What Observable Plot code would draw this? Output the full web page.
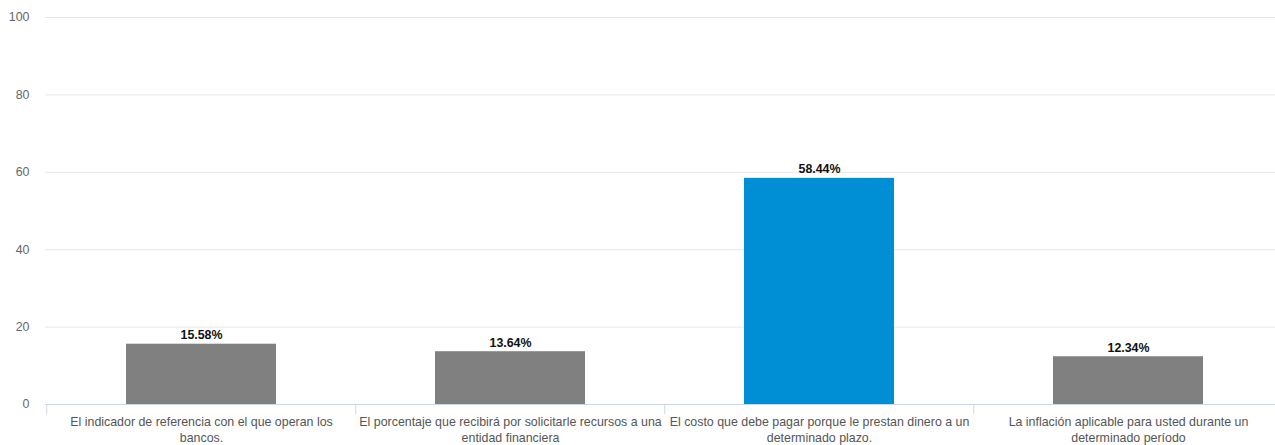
<!DOCTYPE html>
<html>
<head>
<meta charset="utf-8">
<script src="https://cdn.jsdelivr.net/npm/d3@7"></script>
<script src="https://cdn.jsdelivr.net/npm/@observablehq/plot@0.6"></script>
<style>
  html, body { margin: 0; padding: 0; background: #fff; overflow: hidden; }
  #chart svg { display: block; }
</style>
</head>
<body>
<div id="chart"></div>
<script>
const categories = [
  "El indicador de referencia con el que operan los\nbancos.",
  "El porcentaje que recibirá por solicitarle recursos a una\nentidad financiera",
  "El costo que debe pagar porque le prestan dinero a un\ndeterminado plazo.",
  "La inflación aplicable para usted durante un\ndeterminado período"
];
const values = [15.58, 13.64, 58.44, 12.34];
const highlighted = [false, false, true, false];
const yTicks = [0, 20, 40, 60, 80, 100];

const data = categories.map((c, i) => ({cat: c, value: values[i], hi: highlighted[i]}));

const W = 1275, H = 445;
const left = 45, right = 1283;
const step = (right - left) / categories.length;
const font = "'Liberation Sans', Arial, sans-serif";

const chart = Plot.plot({
  width: W,
  height: H,
  marginTop: 17,
  marginBottom: 41,
  marginLeft: left,
  marginRight: 0,
  style: {fontFamily: font, fontSize: "12.4px", background: "#fff", overflow: "hidden"},
  x: {domain: categories, range: [left, right], paddingInner: 0.515, paddingOuter: 0.2575, label: null},
  y: {domain: [0, 100], ticks: yTicks, label: null},
  marks: [
    Plot.ruleY(yTicks.filter(d => d > 0), {stroke: "#e6e6e6", strokeWidth: 1}),
    Plot.ruleX(categories, {x: d => d, dx: -step / 2, y1: 0, y2: 0, insetBottom: -10, stroke: "#ccd6eb"}),
    Plot.ruleY([0], {stroke: "#ccd6eb", strokeWidth: 1}),
    Plot.barY(data, {x: "cat", y: "value", fill: d => d.hi ? "#008fd5" : "#808080"}),
    Plot.text(data, {x: "cat", y: "value", text: d => d.value.toFixed(2) + "%", dy: -9, fontWeight: "bold", fill: "#111", fontSize: 12.4}),
    Plot.axisY({ticks: yTicks, tickSize: 0, tickPadding: 16, fill: "#666", fontSize: 12.4}),
    Plot.axisX({tickSize: 0, tickPadding: 10, fill: "#555", fontSize: 12.4, lineHeight: 1.3, textAnchor: "middle", lineAnchor: "top"})
  ]
});
document.getElementById("chart").appendChild(chart);
</script>
</body>
</html>
